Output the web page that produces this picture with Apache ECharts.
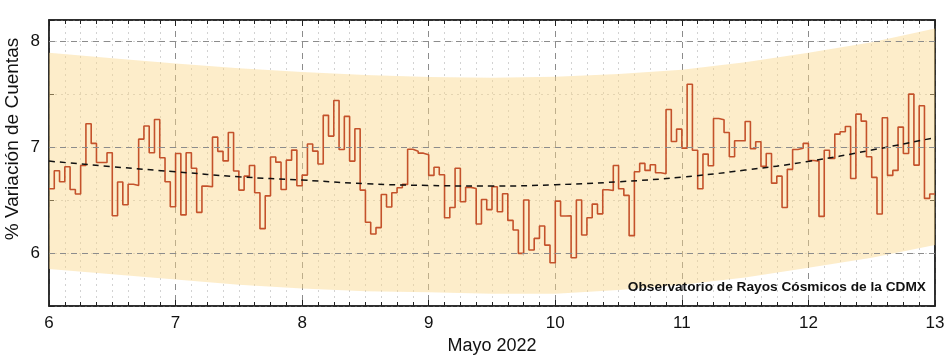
<!DOCTYPE html>
<html lang="es">
<head>
<meta charset="UTF-8">
<title>Variación de Cuentas</title>
<script src="https://cdn.jsdelivr.net/npm/echarts@6/dist/echarts.min.js"></script>
</head>
<body style="margin:0; background:#fff">
<div id="main" style="width:947px; height:357px"></div>
<script>
// % variación de cuentas, un valor por hora desde el 6 de mayo
var cuentas = [
    6.607, 6.777, 6.673, 6.814, 6.600, 6.557, 6.827, 7.220, 7.035, 6.855, 6.855, 6.947, 6.352, 6.670, 6.456, 6.650, 6.638, 7.075, 7.200, 6.947, 7.260, 6.900, 6.673, 6.437, 6.940, 6.360, 6.947, 6.800,
    6.384, 6.632, 6.626, 7.094, 6.960, 6.870, 7.138, 6.774, 6.594, 6.726, 6.827, 6.569, 6.230, 6.540, 6.906, 6.858, 6.600, 6.877, 6.972, 6.635, 6.736, 7.030, 6.962, 6.840, 7.300, 7.104, 7.440, 6.978,
    7.290, 6.868, 7.173, 6.594, 6.290, 6.180, 6.240, 6.553, 6.434, 6.569, 6.616, 6.648, 6.980, 6.962, 6.943, 6.928, 6.733, 6.810, 6.739, 6.333, 6.430, 6.800, 6.484, 6.620, 6.610, 6.274, 6.506, 6.410,
    6.626, 6.390, 6.560, 6.308, 6.217, 5.997, 6.500, 6.028, 6.138, 6.255, 6.075, 5.909, 6.490, 6.350, 6.352, 5.956, 6.500, 6.170, 6.333, 6.462, 6.370, 6.597, 6.590, 6.827, 6.607, 6.544, 6.164, 6.767,
    6.846, 6.780, 6.833, 6.758, 6.748, 7.355, 7.053, 7.170, 6.990, 7.594, 6.970, 6.607, 6.934, 6.824, 7.270, 7.258, 7.138, 6.909, 7.060, 7.060, 7.242, 6.984, 7.050, 6.818, 6.940, 6.660, 6.726, 6.430,
    6.790, 6.978, 6.990, 7.035, 6.874, 6.868, 6.346, 6.970, 6.893, 7.123, 7.145, 7.195, 6.704, 7.311, 7.245, 6.909, 6.714, 6.368, 7.277, 6.733, 6.780, 7.189, 6.940, 7.500, 6.830, 7.390, 6.516, 6.557
];
var diaInicio = 6;
var horasPorDia = 24;

// ajuste y banda, leidos cada medio dia
var diasAjuste = [6, 6.5, 7, 7.5, 8, 8.5, 9, 9.5, 10, 10.5, 11, 11.5, 12, 12.5, 13];
var ajuste    = [6.868, 6.815, 6.767, 6.720, 6.689, 6.654, 6.638, 6.632, 6.645, 6.673, 6.717, 6.783, 6.865, 6.972, 7.090];
var bandaSup  = [7.890, 7.840, 7.790, 7.745, 7.710, 7.680, 7.663, 7.655, 7.665, 7.690, 7.730, 7.800, 7.890, 7.990, 8.120];
var bandaInf  = [5.850, 5.800, 5.750, 5.700, 5.665, 5.640, 5.630, 5.615, 5.615, 5.650, 5.700, 5.770, 5.860, 5.955, 6.075];

var ticksY = [6, 7, 8];

var puntosCuentas = cuentas.map(function (v, i) {
    return [diaInicio + i / horasPorDia, v];
});
puntosCuentas.push([diaInicio + cuentas.length / horasPorDia, cuentas[cuentas.length - 1]]);

var fuente = '"Liberation Sans", Arial, sans-serif';
var gris = '#8c8c8c';

var myChart = echarts.init(document.getElementById('main'));
var option = {
    animation: false,
    grid: {
        left: 49, right: 12, top: 20, bottom: 51,
        outerBoundsMode: 'none', containLabel: false,
        show: true, borderColor: '#222', borderWidth: 1.5, backgroundColor: 'transparent'
    },
    xAxis: [{
        type: 'value', min: 6, max: 13, interval: 1,
        name: 'Mayo 2022', nameLocation: 'middle', nameGap: 30,
        nameTextStyle: {fontSize: 18, color: '#111', fontFamily: fuente},
        axisLine: {lineStyle: {color: '#222', width: 1.5}},
        axisTick: {inside: true, length: 6, lineStyle: {color: '#222'}},
        minorTick: {show: true, splitNumber: 8, length: 4, lineStyle: {color: '#222'}},
        axisLabel: {fontSize: 17, color: '#111', margin: 9, fontFamily: fuente},
        splitLine: {show: true, lineStyle: {type: [6, 5], color: gris, width: 1}},
        minorSplitLine: {show: true, lineStyle: {type: [2, 4], color: '#d2d2d2', width: 1}}
    }, {
        type: 'value', min: 6, max: 13, interval: 1, position: 'top',
        axisLine: {lineStyle: {color: '#222', width: 1.5}},
        axisTick: {inside: true, length: 6, lineStyle: {color: '#222'}},
        minorTick: {show: true, splitNumber: 8, length: 4, lineStyle: {color: '#222'}},
        axisLabel: {show: false},
        splitLine: {show: false}
    }],
    yAxis: [{
        type: 'value', min: 5.5, max: 8.2, interval: 0.5,
        axisLine: {show: true, lineStyle: {color: '#222', width: 1.5}},
        axisTick: {inside: true, length: 5, lineStyle: {color: '#222'}},
        axisLabel: {
            fontSize: 17, color: '#111', margin: 9, fontFamily: fuente,
            formatter: function (v) { return ticksY.indexOf(v) >= 0 ? String(v) : ''; }
        },
        splitLine: {show: true, lineStyle: {type: [2, 4], color: '#d2d2d2', width: 1}}
    }, {
        type: 'value', min: 5.5, max: 8.2, interval: 0.5, position: 'right',
        axisLine: {show: true, lineStyle: {color: '#222', width: 1.5}},
        axisTick: {inside: true, length: 5, lineStyle: {color: '#222'}},
        axisLabel: {show: false},
        splitLine: {show: false}
    }],
    graphic: [{
        type: 'text', x: 13, y: 139, rotation: Math.PI / 2, z: 100,
        style: {
            text: '% Variación de Cuentas', font: '19px ' + fuente, fill: '#111',
            align: 'center', verticalAlign: 'middle'
        }
    }, {
        type: 'text', right: 21, top: 280, z: 100,
        style: {
            text: 'Observatorio de Rayos Cósmicos de la CDMX',
            font: 'bold 13.7px ' + fuente, fill: '#111'
        }
    }],
    series: [{
        // banda de confianza del ajuste
        type: 'custom', silent: true, z: 1,
        data: diasAjuste.map(function (d, i) { return [d, bandaInf[i], bandaSup[i]]; }),
        renderItem: function (params, api) {
            if (params.dataIndex !== 0) return;
            var pts = [];
            var i;
            for (i = 0; i < diasAjuste.length; i++) pts.push(api.coord([diasAjuste[i], bandaSup[i]]));
            for (i = diasAjuste.length - 1; i >= 0; i--) pts.push(api.coord([diasAjuste[i], bandaInf[i]]));
            return {
                type: 'polygon',
                shape: {points: pts},
                style: {fill: 'rgba(251, 214, 138, 0.45)'}
            };
        },
        markLine: {
            silent: true, symbol: 'none', label: {show: false},
            lineStyle: {type: [6, 5], color: gris, width: 1},
            data: ticksY.map(function (v) { return {yAxis: v}; })
        }
    }, {
        type: 'line', step: 'end', symbol: 'none', z: 3,
        data: puntosCuentas,
        lineStyle: {color: '#c4522b', width: 1.6}
    }, {
        type: 'line', smooth: true, symbol: 'none', z: 4,
        data: diasAjuste.map(function (d, i) { return [d, ajuste[i]]; }),
        lineStyle: {color: '#111', width: 1.5, type: [6, 5]}
    }]
};
myChart.setOption(option);
</script>
</body>
</html>
